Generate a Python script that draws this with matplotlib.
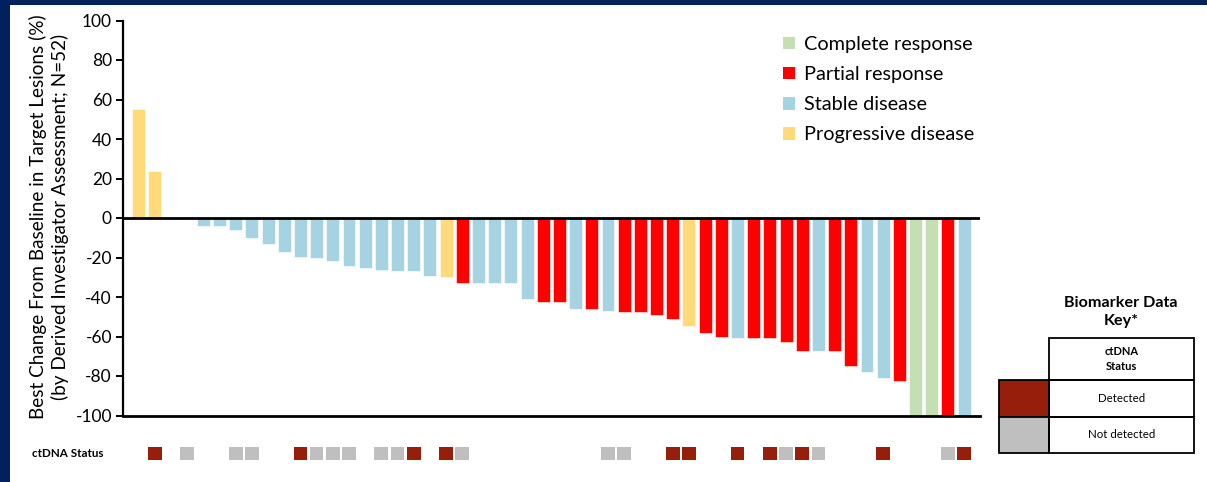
import matplotlib
matplotlib.use("Agg")
import matplotlib.pyplot as plt
from matplotlib.patches import Patch, Rectangle

plt.rcParams['font.family'] = ['Lato', 'DejaVu Sans']

# Best change from baseline per patient, ordered as plotted
change = [55, 24, 0, 0, -4, -4, -6, -10, -13, -17,
          -19.5, -20.5, -22, -24.5, -25.5, -26.5, -27, -27, -29.5, -30,
          -33, -33, -33, -33, -41, -42.5, -42.5, -46, -46, -47,
          -47.5, -47.5, -49, -51, -54.5, -58, -60, -61, -61, -61,
          -63, -67.5, -67.5, -67.5, -75, -78, -81, -82.5, -100, -100,
          -100, -100]

# Best overall response per patient
response = ['PD', 'PD', 'SD', 'SD', 'SD', 'SD', 'SD', 'SD', 'SD', 'SD',
            'SD', 'SD', 'SD', 'SD', 'SD', 'SD', 'SD', 'SD', 'SD', 'PD',
            'PR', 'SD', 'SD', 'SD', 'SD', 'PR', 'PR', 'SD', 'PR', 'SD',
            'PR', 'PR', 'PR', 'PR', 'PD', 'PR', 'PR', 'SD', 'PR', 'PR',
            'PR', 'PR', 'SD', 'PR', 'PR', 'SD', 'SD', 'PR', 'CR', 'CR',
            'PR', 'SD']

# ctDNA status per patient: D = detected, N = not detected, '' = no data
ctdna = ['', 'D', '', 'N', '', '', 'N', 'N', '', '',
         'D', 'N', 'N', 'N', '', 'N', 'N', 'D', '', 'D',
         'N', '', '', '', '', '', '', '', '', 'N',
         'N', '', '', 'D', 'D', '', '', 'D', '', 'D',
         'N', 'D', 'N', '', '', '', 'D', '', '', '',
         'N', 'D']

response_labels = {'CR': 'Complete response', 'PR': 'Partial response',
                   'SD': 'Stable disease', 'PD': 'Progressive disease'}
response_colors = {'CR': '#C5DFB4', 'PR': '#FF0000',
                   'SD': '#A6D3E2', 'PD': '#FFD97A'}
ctdna_labels = {'D': 'Detected', 'N': 'Not detected'}
ctdna_colors = {'D': '#961E0A', 'N': '#BFBFBF'}

yticks = [100, 80, 60, 40, 20, 0, -20, -40, -60, -80, -100]

W, H = 1207, 482
fig = plt.figure(figsize=(W / 100, H / 100), dpi=100)
fig.patch.set_facecolor('white')

def fx(px):
    return px / W

def fy(py):
    return 1 - py / H

# Waterfall axes
left, right, top, bottom = 123, 980, 20.5, 415.5
ax = fig.add_axes([fx(left), fy(bottom), fx(right - left), (bottom - top) / H])
x = list(range(len(change)))
ax.bar(x, change, width=0.8, color=[response_colors[r] for r in response],
       edgecolor='white', linewidth=0.4, zorder=2)
ax.set_xlim(-0.96, len(change) - 0.02)
ax.set_ylim(-100, 100)
ax.set_yticks(yticks)
ax.set_yticklabels([str(t) for t in yticks], fontsize=12.5)
ax.set_xticks([])
ax.axhline(0, color='black', linewidth=2, zorder=3)
for s in ('top', 'right'):
    ax.spines[s].set_visible(False)
ax.spines['left'].set_linewidth(1.6)
ax.spines['bottom'].set_linewidth(2)
ax.tick_params(axis='y', length=5, width=1.4, pad=3, direction='out')

fig.text(fx(49), fy(217),
         'Best Change From Baseline in Target Lesions (%)\n'
         '(by Derived Investigator Assessment; N=52)',
         rotation=90, ha='center', va='center', fontsize=13.6,
         linespacing=1.2, multialignment='center')

handles = [Patch(facecolor=response_colors[k], edgecolor='none')
           for k in ('CR', 'PR', 'SD', 'PD')]
fig.legend(handles, [response_labels[k] for k in ('CR', 'PR', 'SD', 'PD')],
           loc='upper left', bbox_to_anchor=(fx(783), fy(36)),
           frameon=False, fontsize=14.3, handlelength=0.6, handleheight=0.6,
           handletextpad=0.45, labelspacing=0.66, borderpad=0,
           borderaxespad=0)

# ctDNA status strip, sharing the patient positions
ax2 = fig.add_axes([fx(left), fy(460), fx(right - left), 13 / H])
ax2.set_xlim(ax.get_xlim())
ax2.set_ylim(0, 1)
for i, c in enumerate(ctdna):
    if c:
        ax2.bar(i, 1, width=0.85, bottom=0, color=ctdna_colors[c],
                edgecolor='none')
ax2.axis('off')
fig.text(fx(32), fy(453.5), 'ctDNA Status', fontsize=8.4, fontweight='bold',
         ha='left', va='center')

# Overlay in pixel coordinates for the frame and the biomarker key
ov = fig.add_axes([0, 0, 1, 1], zorder=-1)
ov.set_xlim(0, W)
ov.set_ylim(H, 0)
ov.axis('off')
navy = '#002060'
ov.add_patch(Rectangle((0, 0), W, 5, color=navy, lw=0))
ov.add_patch(Rectangle((0, 0), 10, H, color=navy, lw=0))

ov2 = fig.add_axes([0, 0, 1, 1], zorder=5)
ov2.set_xlim(0, W)
ov2.set_ylim(H, 0)
ov2.axis('off')
ov2.patch.set_alpha(0)
ov2.text(1121, 312, 'Biomarker Data\nKey*', ha='center', va='center',
         fontsize=11.6, fontweight='bold', linespacing=1.35)
lw = 1.3
ov2.add_patch(Rectangle((1049, 338), 145, 42, fill=False, ec='black', lw=lw))
ov2.text(1121.5, 359, 'ctDNA\nStatus', ha='center', va='center', fontsize=8,
         fontweight='bold', linespacing=1.35)
for row, key in enumerate(('D', 'N')):
    y0 = 380 + row * 36.5
    ov2.add_patch(Rectangle((998.5, y0), 50.5, 36.5, facecolor=ctdna_colors[key],
                            ec='black', lw=lw))
    ov2.add_patch(Rectangle((1049, y0), 145, 36.5, fill=False, ec='black', lw=lw))
    ov2.text(1121.5, y0 + 18.5, ctdna_labels[key], ha='center', va='center',
             fontsize=8.3)

fig.savefig('out.png', dpi=100, facecolor='white')
